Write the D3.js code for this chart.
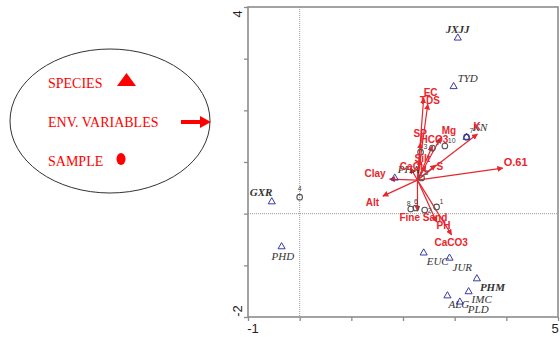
<!DOCTYPE html>
<html><head><meta charset="utf-8">
<script src="https://cdn.jsdelivr.net/npm/d3@7"></script>
<style>body{margin:0;background:#fff}svg{display:block}</style>
</head><body>
<svg id="c" width="560" height="337"></svg>
<script>
// ---- data ----
const xTicks = [-1, 0, 1, 2, 3, 4, 5];
const yTicks = [-2, -1, 0, 1, 2, 3, 4];
const xTickLabels = ["-1", "", "", "", "", "", "5"];
const yTickLabels = ["-2", "", "", "", "", "", "4"];

const speciesNames = ["JXJJ","TYD","KN","PHA","GXR","PHD","EUC","JUR","PHM","IMC","ALG","PLD"];
const speciesX = [3.06, 2.98, 3.23, 1.84, -0.54, -0.35, 2.40, 2.90, 3.43, 3.27, 2.86, 3.10];
const speciesY = [3.40, 2.46, 1.48, 0.69, 0.23, -0.64, -0.76, -0.86, -1.26, -1.51, -1.59, -1.71];
const speciesBold = ["JXJJ", "GXR", "PHM"];

const envOrigin = [2.28, 0.65];
const envNames = ["EC","TDS","Mg","HCO3","SP","Silt","Ca","Cl","S","K","O.61","Clay","Alt","Fine Sand","PH","CaCO3"];
const envX = [2.40, 2.48, 2.73, 2.57, 2.34, 2.34, 2.15, 2.44, 2.63, 3.44, 3.93, 1.74, 1.61, 2.28, 2.65, 2.94];
const envY = [2.24, 2.12, 1.47, 1.31, 1.37, 1.04, 0.88, 0.92, 0.94, 1.54, 0.88, 0.67, 0.34, 0.05, -0.16, -0.41];

const sampleNames = ["1","2","3","4","5","6","7","8","9","10"];
const sampleX = [2.65, 2.42, 2.34, 0.00, 2.36, 2.25, 3.23, 2.15, 2.57, 2.81];
const sampleY = [0.13, 0.07, 1.19, 0.32, 0.69, 0.11, 1.48, 0.09, 1.27, 1.31];

const legendItems = ["SPECIES", "ENV. VARIABLES", "SAMPLE"];

// ---- label placement (px offsets) ----
const speciesLabelOff = [[-12,-5],[4,-5],[6,-6],[3,-5],[-22,-6],[-10,13],[3,12],[3,13],[3,12],[3,11],[1,12],[8,11]];
const envLabelOff = [[0,-2],[-8,0],[1,-4],[-12,-3],[-7,-6],[-6,2],[-11,2],[-13,4],[1,5],[-4,-4],[1,-2],[-25,-2],[-17,10],[-18,10],[0,7],[-17,11]];
const sampleLabelOff = [[3,-3],[3,3],[3,-3],[-2,-6],[3,-3],[-2,-4],[3,-4],[-4,-3],[3,-3],[3,-3]];

// ---- drawing ----
const svg = d3.select("#c");
const x = d3.scaleLinear().domain([-1, 5]).range([248, 558]);
const y = d3.scaleLinear().domain([-2, 4]).range([317, 7]);
const axisCol = "#8c8c8c";
const red = "#e8262e";

// dotted zero lines
svg.append("line").attr("x1", x(0)).attr("x2", x(0)).attr("y1", y(4)).attr("y2", y(-2))
  .attr("stroke", "#9a9a9a").attr("stroke-width", 1).attr("stroke-dasharray", "1,1");
svg.append("line").attr("x1", x(-1)).attr("x2", x(5)).attr("y1", y(0)).attr("y2", y(0))
  .attr("stroke", "#9a9a9a").attr("stroke-width", 1).attr("stroke-dasharray", "1,1");

// axes
const gx = svg.append("g").attr("transform", `translate(0,${y(-2)})`)
  .call(d3.axisBottom(x).tickValues(xTicks).tickSize(4).tickFormat(() => ""));
const gy = svg.append("g").attr("transform", `translate(${x(-1)},0)`)
  .call(d3.axisLeft(y).tickValues(yTicks).tickSize(4).tickFormat(() => ""));
[gx, gy].forEach(g => {
  g.select(".domain").remove();
  g.selectAll(".tick line").attr("stroke", axisCol).attr("stroke-width", 1.3);
});
// frame
svg.append("rect").attr("x", x(-1)).attr("y", y(4)).attr("width", x(5) - x(-1)).attr("height", y(-2) - y(4))
  .attr("fill", "none").attr("stroke", axisCol).attr("stroke-width", 1.6);

// tick labels
xTicks.forEach((t, i) => {
  if (!xTickLabels[i]) return;
  svg.append("text").attr("x", x(t) + (i === 0 ? 5 : -3)).attr("y", 333)
    .attr("text-anchor", "middle").attr("font-family", "Arial, Liberation Sans, sans-serif")
    .attr("font-size", 13).attr("fill", "#222").text(xTickLabels[i]);
});
yTicks.forEach((t, i) => {
  if (!yTickLabels[i]) return;
  const cy = i === 0 ? y(t) - 6 : y(t) + 7;
  svg.append("text").attr("transform", `translate(242,${cy}) rotate(-90)`)
    .attr("text-anchor", "middle").attr("font-family", "Arial, Liberation Sans, sans-serif")
    .attr("font-size", 13).attr("fill", "#222").text(yTickLabels[i]);
});

// arrow marker
const defs = svg.append("defs");
defs.append("marker").attr("id", "ah").attr("viewBox", "0 0 10 10").attr("refX", 9).attr("refY", 5)
  .attr("markerWidth", 5).attr("markerHeight", 5).attr("orient", "auto")
  .append("path").attr("d", "M0,0L10,5L0,10z").attr("fill", red);

// env arrows
envNames.forEach((n, i) => {
  svg.append("line").attr("x1", x(envOrigin[0])).attr("y1", y(envOrigin[1]))
    .attr("x2", x(envX[i])).attr("y2", y(envY[i]))
    .attr("stroke", red).attr("stroke-width", 1.2).attr("marker-end", "url(#ah)");
});

// samples
sampleNames.forEach((n, i) => {
  svg.append("circle").attr("cx", x(sampleX[i])).attr("cy", y(sampleY[i])).attr("r", 2.8)
    .attr("fill", "none").attr("stroke", n === "7" ? "#2a2a6a" : "#555").attr("stroke-width", 1.1);
  svg.append("text").attr("x", x(sampleX[i]) + sampleLabelOff[i][0]).attr("y", y(sampleY[i]) + sampleLabelOff[i][1])
    .attr("font-family", "Arial, Liberation Sans, sans-serif").attr("font-size", 7).attr("fill", "#444").text(n);
});

// species
const tri = d3.symbol().type(d3.symbolTriangle).size(22);
speciesNames.forEach((n, i) => {
  svg.append("path").attr("d", tri()).attr("transform", `translate(${x(speciesX[i])},${y(speciesY[i])})`)
    .attr("fill", "none").attr("stroke", "#3a3aa8").attr("stroke-width", 1);
  svg.append("text").attr("x", x(speciesX[i]) + speciesLabelOff[i][0]).attr("y", y(speciesY[i]) + speciesLabelOff[i][1])
    .attr("font-family", "Liberation Serif, Times New Roman, serif").attr("font-style", "italic")
    .attr("font-weight", speciesBold.includes(n) ? "bold" : "normal")
    .attr("font-size", 11).attr("fill", "#333").text(n);
});

// env labels
envNames.forEach((n, i) => {
  svg.append("text").attr("x", x(envX[i]) + envLabelOff[i][0]).attr("y", y(envY[i]) + envLabelOff[i][1])
    .attr("font-family", "Arial, Liberation Sans, sans-serif").attr("font-weight", "bold")
    .attr("font-size", n === "O.61" ? 11 : 10).attr("fill", red).text(n);
});

// legend
const lg = svg.append("g");
lg.append("ellipse").attr("cx", 110).attr("cy", 121).attr("rx", 100).attr("ry", 72)
  .attr("fill", "none").attr("stroke", "#333").attr("stroke-width", 1);
const ly = [88, 127, 166];
legendItems.forEach((t, i) => {
  lg.append("text").attr("x", 48).attr("y", ly[i]).attr("font-family", "Liberation Serif, Times New Roman, serif")
    .attr("font-size", 14).attr("fill", "#ff0000").text(t);
});
lg.append("path").attr("d", "M117,86L126.5,73L136,86Z").attr("fill", "#ff0000");
lg.append("line").attr("x1", 181).attr("x2", 202).attr("y1", 122).attr("y2", 122)
  .attr("stroke", "#ff0000").attr("stroke-width", 4);
lg.append("path").attr("d", "M200,116L211,122L200,128Z").attr("fill", "#ff0000");
lg.append("ellipse").attr("cx", 121).attr("cy", 159).attr("rx", 4.5).attr("ry", 6).attr("fill", "#ff0000");
</script>
</body></html>
